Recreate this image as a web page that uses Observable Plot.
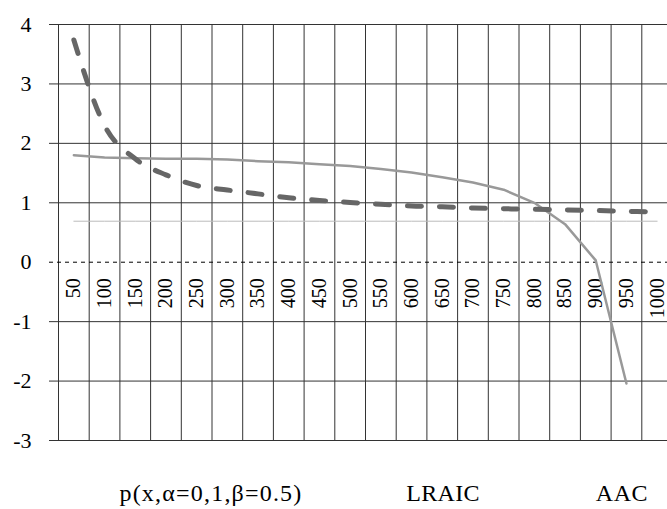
<!DOCTYPE html>
<html><head><meta charset="utf-8">
<script src="https://cdn.jsdelivr.net/npm/d3@7"></script>
<script src="https://cdn.jsdelivr.net/npm/@observablehq/plot@0.6"></script>
<style>
html,body{margin:0;padding:0;background:#fff;overflow:hidden;}
#wrap{position:relative;width:667px;height:509px;}
#wrap svg{display:block;}
.leg{position:absolute;top:481px;font-family:"Liberation Serif",serif;font-size:24px;line-height:1;color:#000;transform:translateX(-50%);white-space:nowrap;}
</style></head>
<body><div id="wrap"></div>
<script>
const categories = [50,100,150,200,250,300,350,400,450,500,550,600,650,700,750,800,850,900,950,1000];
const yTicks = [-3,-2,-1,0,1,2,3,4];
const pValues = [0.69,0.69,0.69,0.69,0.69,0.69,0.69,0.69,0.69,0.69,0.69,0.69,0.69,0.69,0.69,0.69,0.69,0.69,0.69,0.69];
const lraicValues = [1.80,1.76,1.75,1.74,1.74,1.73,1.70,1.68,1.65,1.62,1.57,1.51,1.43,1.34,1.22,1.00,0.64,0.03,-2.04];
const aacValues = [3.74,2.30,1.74,1.47,1.29,1.215,1.15,1.085,1.04,1.005,0.975,0.946,0.933,0.912,0.90,0.89,0.88,0.87,0.857,0.845];
const legendLabels = ["p(x,α=0,1,β=0.5)","LRAIC","AAC"];
const legendCenters = [211,443,622];
const legendSpacing = [1.2,0.3,0.6];

const n = categories.length;
const toPts = vals => vals.map((v,i)=>({x:i+0.5, y:v}));
const boundaries = categories.map((c,i)=>i);

const chart = Plot.plot({
  width:667, height:460,
  marginLeft:49, marginRight:0, marginTop:0, marginBottom:0,
  x:{type:"linear", domain:[0,n], range:[58,672], axis:null},
  y:{domain:[-3,4], range:[440,24], axis:null},
  style:{fontFamily:"Liberation Serif, serif", background:"#fff"},
  marks:[
    Plot.ruleY(yTicks.filter(d=>d!==0), {stroke:"#333", strokeWidth:1, strokeOpacity:1}),
    Plot.ruleX(boundaries, {x:d=>d, y1:-3, y2:4, stroke:"#333", strokeWidth:1, strokeOpacity:1}),
    Plot.ruleY([0], {stroke:"#000", strokeWidth:1, strokeDasharray:"4,4"}),
    Plot.axisY({ticks:yTicks, tickSize:0, tickPadding:18, fontSize:22, fill:"#000", label:null, tickFormat:d=>String(d)}),
    Plot.text(categories, {x:(d,i)=>i+0.5, y:0, text:d=>String(d), rotate:-90, textAnchor:"end", dy:16, fontSize:20, fill:"#000"}),
    Plot.line(toPts(pValues), {x:"x", y:"y", stroke:"#bbb", strokeWidth:1}),
    Plot.line(toPts(lraicValues), {x:"x", y:"y", stroke:"#999", strokeWidth:2.5}),
    Plot.line(toPts(aacValues), {x:"x", y:"y", stroke:"#666", strokeWidth:5, strokeDasharray:"14,18", strokeLinecap:"round", curve:"monotone-x"})
  ]
});
const wrap = document.getElementById("wrap");
wrap.appendChild(chart);
legendLabels.forEach((t,i)=>{
  const s = document.createElement("span");
  s.className = "leg";
  s.style.left = legendCenters[i] + "px";
  s.style.letterSpacing = legendSpacing[i] + "px";
  s.textContent = t;
  wrap.appendChild(s);
});
</script>
</body></html>
